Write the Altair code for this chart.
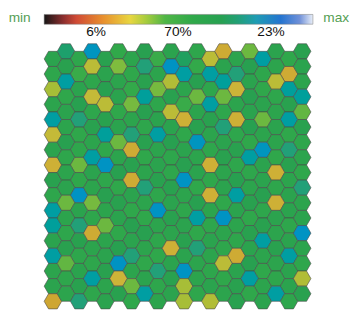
import math
import altair as alt
import pandas as pd

# ---- cell values (17 rows x 20 columns, flat-top hexagon grid) ----
row_00 = [62, 70, 58, 83, 64, 55, 60, 66, 52, 62, 68, 58, 34, 29, 60, 42, 77, 62, 56, 64]
row_01 = [58, 64, 52, 34, 62, 40, 56, 72, 60, 84, 77, 54, 77, 62, 72, 66, 58, 60, 29, 62]
row_02 = [36, 77, 62, 58, 66, 60, 54, 64, 41, 35, 60, 66, 58, 76, 31, 62, 56, 34, 76, 60]
row_03 = [60, 56, 66, 33, 34, 62, 41, 76, 58, 64, 52, 42, 77, 42, 60, 66, 62, 58, 64, 76]
row_04 = [77, 62, 72, 58, 64, 56, 60, 66, 62, 34, 30, 60, 64, 58, 30, 62, 42, 60, 77, 43]
row_05 = [33, 60, 56, 64, 76, 62, 72, 58, 77, 62, 56, 64, 60, 72, 58, 66, 60, 62, 56, 64]
row_06 = [62, 66, 58, 60, 56, 42, 29, 64, 60, 66, 62, 83, 58, 62, 64, 56, 83, 60, 72, 58]
row_07 = [30, 58, 42, 77, 84, 60, 64, 56, 62, 58, 66, 60, 30, 64, 58, 77, 62, 56, 64, 60]
row_08 = [64, 60, 56, 62, 58, 66, 29, 60, 64, 58, 84, 62, 56, 60, 66, 58, 62, 30, 60, 56]
row_09 = [58, 62, 84, 60, 66, 56, 62, 72, 58, 64, 60, 56, 30, 62, 77, 60, 66, 58, 62, 72]
row_10 = [77, 42, 62, 41, 60, 64, 56, 60, 84, 62, 58, 66, 60, 56, 62, 64, 58, 30, 62, 60]
row_11 = [76, 60, 72, 58, 42, 62, 66, 56, 60, 64, 62, 77, 58, 84, 60, 56, 64, 62, 58, 62]
row_12 = [62, 58, 64, 29, 60, 56, 62, 66, 58, 60, 64, 56, 62, 60, 58, 64, 77, 60, 62, 84]
row_13 = [77, 64, 58, 60, 62, 66, 72, 60, 56, 30, 62, 72, 60, 58, 29, 62, 60, 64, 77, 60]
row_14 = [60, 43, 62, 58, 64, 84, 60, 56, 72, 62, 84, 60, 58, 34, 62, 66, 56, 60, 62, 58]
row_15 = [62, 58, 64, 77, 60, 31, 42, 62, 58, 64, 36, 60, 62, 56, 64, 77, 60, 58, 62, 35]
row_16 = [28, 60, 72, 58, 62, 64, 56, 77, 60, 62, 36, 58, 35, 60, 64, 56, 62, 77, 58, 64]
grid_rows = [row_00, row_01, row_02, row_03, row_04, row_05, row_06, row_07, row_08,
             row_09, row_10, row_11, row_12, row_13, row_14, row_15, row_16]

# ---- colour ramp of the bar ----
ramp_stops = [0, 7, 12, 22, 32, 38, 45, 55, 66, 72, 79, 88, 95, 100]
ramp_colors = ["#161616", "#8a2e2e", "#d04a35", "#e8902e", "#e8d640", "#a6cc3e",
               "#50b646", "#30a94a", "#27a152", "#22a076", "#1f9cb4", "#2474d0",
               "#6f90d8", "#e8eef8"]
# same ramp as printed on the cells (a little deeper)
cell_colors = ["#161616", "#7e2a2a", "#c04432", "#cc8a2e", "#cdb93a", "#92c03c",
               "#4cb246", "#30a84a", "#28a050", "#22a078", "#1f9cae", "#2688d0",
               "#6f90d8", "#e8eef8"]

# ---- colour bar labels ----
pct_labels = ["6%", "70%", "23%"]
pct_pos = [19.3, 49.8, 84.4]
end_labels = ["min", "max"]
end_pos = [-9.1, 108.7]

# build cell table (flat-top hexes, odd columns sit half a row higher)
s3 = math.sqrt(3)
recs = []
for r, row in enumerate(grid_rows):
    for c, v in enumerate(row):
        recs.append({"col": c, "row": r, "value": v,
                     "xu": 1.5 * c,
                     "yu": s3 * r + (s3 / 2 if c % 2 == 0 else 0.0)})
cells = pd.DataFrame(recs)

k = 8.95  # pixels per hex radius
W, H = 352, 309
gx0 = -1 - 37 / k
gy0 = -s3 / 2 - 33 / k
hex_path = "M1,0L0.5,0.866L-0.5,0.866L-1,0L-0.5,-0.866L0.5,-0.866Z"

color_scale = alt.Scale(domain=ramp_stops, range=cell_colors, type="linear")

hexes = alt.Chart(cells).mark_point(
    shape=hex_path, filled=True, size=4 * k * k, opacity=1,
    stroke="#4a4a4a", strokeWidth=0.6
).encode(
    x=alt.X("xu:Q", scale=alt.Scale(domain=[gx0, gx0 + W / k], nice=False, zero=False), axis=None),
    y=alt.Y("yu:Q", scale=alt.Scale(domain=[gy0, gy0 + H / k], nice=False, zero=False, reverse=True), axis=None),
    fill=alt.Fill("value:Q", scale=color_scale, legend=None),
)

kb = 2.75
bx0 = -37 / kb
bar_scale = alt.Scale(domain=[bx0, bx0 + W / kb], nice=False, zero=False)

bar_df = pd.DataFrame({"start": [ramp_stops[0]], "end": [ramp_stops[-1]]})
grad = alt.LinearGradient(
    gradient="linear", x1=0, x2=1, y1=0, y2=0,
    stops=[alt.GradientStop(offset=s / 100, color=col) for s, col in zip(ramp_stops, ramp_colors)],
)
bar = alt.Chart(bar_df).mark_rect(fill=grad, stroke="#777777", strokeWidth=0.5).encode(
    x=alt.X("start:Q", scale=bar_scale, axis=None),
    x2="end:Q",
    y=alt.value(3), y2=alt.value(13),
)

pct_df = pd.DataFrame({"label": pct_labels, "pos": pct_pos})
pct = alt.Chart(pct_df).mark_text(
    font="Liberation Sans", fontSize=14, color="#111111", baseline="middle", align="center"
).encode(
    x=alt.X("pos:Q", scale=bar_scale, axis=None),
    y=alt.value(21),
    text="label:N",
)

end_df = pd.DataFrame({"label": end_labels, "pos": end_pos})
ends = alt.Chart(end_df).mark_text(
    font="Liberation Sans", fontSize=14, color="#55a055", baseline="middle", align="center"
).encode(
    x=alt.X("pos:Q", scale=bar_scale, axis=None),
    y=alt.value(7),
    text="label:N",
)

chart = alt.layer(hexes, bar, pct, ends).resolve_scale(
    x="independent", y="independent"
).properties(
    width=W, height=H, padding=0, autosize=alt.AutoSizeParams(type="none"),
    background="white"
).configure_view(stroke=None)

chart.save("out.html", embed_options={"renderer": "svg", "actions": False})
